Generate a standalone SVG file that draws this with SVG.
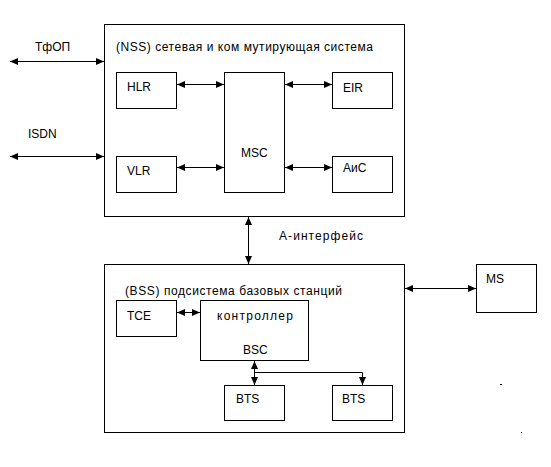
<svg xmlns="http://www.w3.org/2000/svg" width="551" height="467" viewBox="0 0 551 467">
<defs>
<style>
.box{fill:#fff;stroke:#000;stroke-width:1}
.ln{fill:none;stroke:#000;stroke-width:1}
.ar{fill:none;stroke:#000;stroke-width:1;marker-start:url(#ah);marker-end:url(#ah)}
.ae{fill:none;stroke:#000;stroke-width:1;marker-end:url(#ah)}
text{font-family:"Liberation Sans",Arial,sans-serif;font-size:12px;fill:#000}
</style>
<marker id="ah" viewBox="0 0 8 8" refX="8" refY="4" markerWidth="8" markerHeight="8" markerUnits="userSpaceOnUse" orient="auto-start-reverse">
<path d="M0,0.5 L8,4 L0,7.5 Z" fill="#000"/>
</marker>
</defs>
<rect width="551" height="467" fill="#fff"/>
<g id="nss">
<rect class="box" x="104.5" y="24.5" width="300" height="192"/>
<text x="116" y="51" textLength="257" lengthAdjust="spacing">(NSS) сетевая и ком мутирующая система</text>
</g>
<g id="hlr"><rect class="box" x="116.5" y="72.5" width="60" height="36"/><text x="127" y="91">HLR</text></g>
<g id="vlr"><rect class="box" x="116.5" y="156.5" width="60" height="36"/><text x="127" y="175">VLR</text></g>
<g id="msc"><rect class="box" x="224.5" y="72.5" width="60" height="120"/><text x="241" y="157">MSC</text></g>
<g id="eir"><rect class="box" x="332.5" y="72.5" width="60" height="36"/><text x="343" y="92">EIR</text></g>
<g id="aic"><rect class="box" x="332.5" y="156.5" width="60" height="36"/><text x="343" y="172">АиС</text></g>
<g id="bss">
<rect class="box" x="104.5" y="264.5" width="300" height="168"/>
<text x="125" y="295" textLength="217" lengthAdjust="spacing">(BSS) подсистема базовых станций</text>
</g>
<g id="tce"><rect class="box" x="116.5" y="300.5" width="60" height="36"/><text x="127" y="320">TCE</text></g>
<g id="bsc"><rect class="box" x="200.5" y="300.5" width="108" height="60"/><text x="217" y="320" textLength="76" lengthAdjust="spacing">контроллер</text><text x="243" y="354">BSC</text></g>
<g id="bts1"><rect class="box" x="224.5" y="385.5" width="60" height="35"/><text x="236" y="403">BTS</text></g>
<g id="bts2"><rect class="box" x="332.5" y="385.5" width="60" height="35"/><text x="342" y="403">BTS</text></g>
<g id="ms"><rect class="box" x="476.5" y="264.5" width="60" height="48"/><text x="486" y="283">MS</text></g>
<g id="labels">
<text x="35" y="51">ТфОП</text>
<text x="28" y="138">ISDN</text>
<text x="279" y="240" textLength="84" lengthAdjust="spacing">А-интерфейс</text>
</g>
<g id="connectors">
<line class="ar" x1="10" y1="61.5" x2="104" y2="61.5"/>
<line class="ar" x1="10" y1="156.5" x2="104" y2="156.5"/>
<line class="ar" x1="177" y1="84.5" x2="224" y2="84.5"/>
<line class="ar" x1="177" y1="167.5" x2="224" y2="167.5"/>
<line class="ar" x1="285" y1="84.5" x2="332" y2="84.5"/>
<line class="ar" x1="285" y1="167.5" x2="332" y2="167.5"/>
<line class="ar" x1="248.5" y1="217" x2="248.5" y2="264"/>
<line class="ar" x1="405" y1="288.5" x2="476" y2="288.5"/>
<line class="ar" x1="177" y1="312.5" x2="200" y2="312.5"/>
<line class="ar" x1="254.5" y1="361" x2="254.5" y2="385"/>
<polyline class="ae" points="254.5,372.5 362.5,372.5 362.5,385"/>
</g>
<rect x="500" y="384" width="2" height="1" fill="#000"/>
<rect x="521" y="432" width="1" height="1" fill="#000"/>
</svg>
